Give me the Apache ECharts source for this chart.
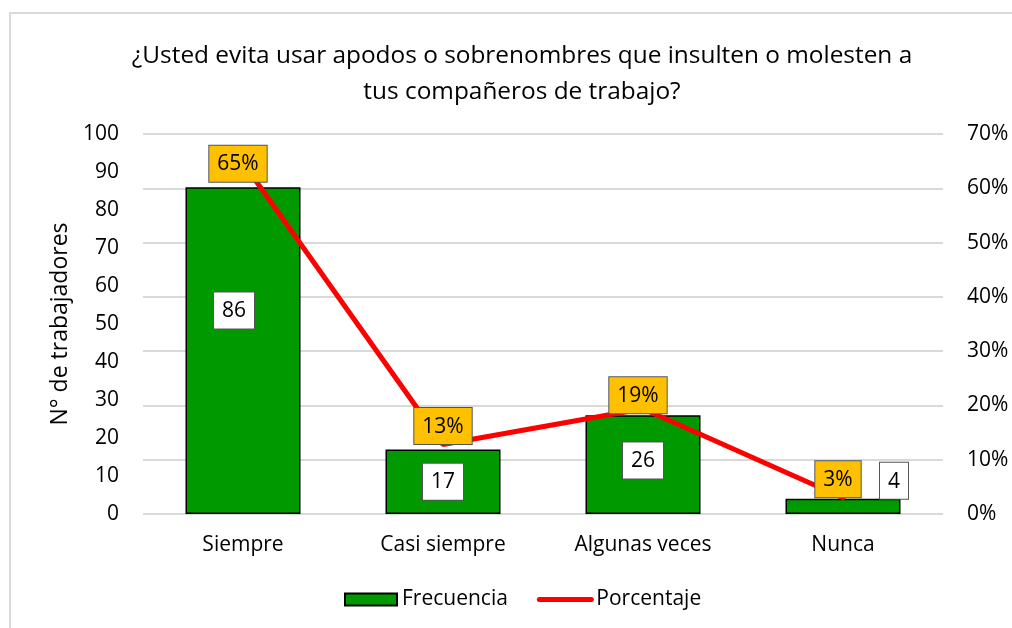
<!DOCTYPE html>
<html><head><meta charset="utf-8">
<script src="https://cdn.jsdelivr.net/npm/echarts@6/dist/echarts.min.js"></script>
<style>html,body{margin:0;padding:0;background:#fff}#c{width:1012px;height:628px}</style>
</head><body><div id="c"></div>
<script>
const categories = ['Siempre', 'Casi siempre', 'Algunas veces', 'Nunca'];
const frecuencia = [86, 17, 26, 4];
const porcentaje = [64.7, 12.8, 19.4, 3.0];
const leftTicks = [0, 100, 10];
const rightTicks = [0, 70, 10];
const titleText = '¿Usted evita usar apodos o sobrenombres que insulten o molesten a\ntus compañeros de trabajo?';

const FONT = '"Open Sans", Lato, sans-serif';
const FS = 21;
const barLabelTweaks = [
  {position: 'inside', offset: [-9, -40]},
  {position: 'inside', offset: [0, 0]},
  {position: 'inside', offset: [0, -4]},
  {position: 'top', distance: 0, offset: [51, 0]}
];
const lineLabelTweaks = [
  {position: 'inside', offset: [-5, 1]},
  {position: 'top', distance: 0, offset: [0, 0]},
  {position: 'top', distance: 0, offset: [-5, 5]},
  {position: 'top', distance: 0, offset: [-5, 0]}
];
const boxLabel = {
  show: true, fontFamily: FONT, fontSize: FS, color: '#000',
  borderColor: '#555', borderWidth: 1, padding: [6, 8, 4, 8], lineHeight: 26
};

const chart = echarts.init(document.getElementById('c'));
chart.setOption({
  animation: false,
  backgroundColor: '#fff',
  textStyle: {fontFamily: FONT},
  graphic: [{
    type: 'rect', shape: {x: 10, y: 13, width: 1100, height: 700},
    style: {fill: 'none', stroke: '#d9d9d9', lineWidth: 2}, z: -10
  }],
  title: {
    text: titleText, left: 517, top: 33, textAlign: 'center',
    textStyle: {fontFamily: FONT, fontSize: 24.4, fontWeight: 'normal', color: '#000', lineHeight: 36, align: 'center'}
  },
  legend: {
    bottom: 13, left: 339, itemWidth: 52, itemHeight: 12, itemGap: 29,
    textStyle: {fontFamily: FONT, fontSize: FS, color: '#000'},
    data: [
      {name: 'Frecuencia', icon: 'rect'},
      {name: 'Porcentaje', itemStyle: {opacity: 0}, lineStyle: {width: 5, cap: 'round', color: '#ff0000'}}
    ]
  },
  grid: {left: 143, right: 69, top: 134, bottom: 114},
  xAxis: {
    type: 'category', data: categories,
    axisLine: {show: false}, axisTick: {show: false},
    axisLabel: {fontFamily: FONT, fontSize: FS, color: '#000', margin: 21}
  },
  yAxis: [{
    type: 'value', min: leftTicks[0], max: leftTicks[1], interval: leftTicks[2],
    name: 'N° de trabajadores', nameLocation: 'middle', nameRotate: 90, nameGap: 68,
    nameTextStyle: {fontFamily: FONT, fontSize: 23, color: '#000'},
    axisLine: {show: false}, axisTick: {show: false}, splitLine: {show: false},
    axisLabel: {fontFamily: FONT, fontSize: FS, color: '#000', margin: 24}
  }, {
    type: 'value', min: rightTicks[0], max: rightTicks[1], interval: rightTicks[2],
    axisLine: {show: false}, axisTick: {show: false},
    splitLine: {show: true, lineStyle: {color: '#d9d9d9', width: 2}},
    axisLabel: {fontFamily: FONT, fontSize: FS, color: '#000', margin: 24, formatter: '{value}%'}
  }],
  series: [{
    name: 'Frecuencia', type: 'bar', yAxisIndex: 0, barWidth: 115,
    itemStyle: {color: '#009900', borderColor: '#000', borderWidth: 1.5},
    data: frecuencia.map((v, i) => ({value: v, label: barLabelTweaks[i]})),
    label: Object.assign({}, boxLabel, {backgroundColor: '#fff'}),
    z: 2
  }, {
    name: 'Porcentaje', type: 'line', yAxisIndex: 1,
    symbol: 'circle', symbolSize: 1, showSymbol: true,
    lineStyle: {color: '#ff0000', width: 5, cap: 'round'}, itemStyle: {color: '#ff0000'},
    data: porcentaje.map((v, i) => ({value: v, label: lineLabelTweaks[i]})),
    label: Object.assign({}, boxLabel, {
      backgroundColor: '#ffc000',
      formatter: p => Math.round(p.value) + '%'
    }),
    z: 3
  }]
});
</script></body></html>
